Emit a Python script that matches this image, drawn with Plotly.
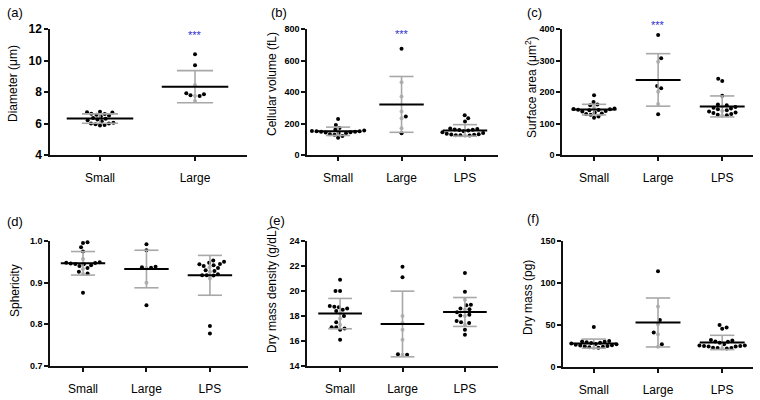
import numpy as np
import plotly.graph_objects as go

# ---------------- data ----------------
cats2 = ["Small", "Large"]
cats3 = ["Small", "Large", "LPS"]

diam_small = [6.75, 6.72, 6.7, 6.62, 6.6, 6.55, 6.5, 6.45, 6.35, 6.3, 6.25, 6.2, 6.15, 6.05, 6.0, 6.0, 5.95, 5.9, 5.88]
diam_large = [10.4, 9.7, 8.45, 7.92, 7.85, 7.8, 7.75, 7.75, 7.43]

vol_small = [228, 190, 172, 160, 155, 152, 150, 150, 148, 147, 145, 143, 140, 138, 132, 128, 120, 110]
vol_large = [675, 462, 372, 276, 244, 233, 170, 138]
vol_lps = [252, 233, 212, 168, 165, 162, 160, 158, 155, 150, 145, 140, 135, 132, 130, 128, 126, 125, 124, 122]

area_small = [190, 168, 160, 158, 150, 148, 146, 145, 144, 143, 142, 140, 138, 135, 132, 130, 128, 122, 118]
area_large = [381, 307, 296, 219, 212, 201, 162, 129]
area_lps = [242, 235, 188, 160, 158, 155, 152, 150, 148, 145, 142, 140, 138, 135, 133, 130, 128, 126, 125]

spher_small = [0.997, 0.995, 0.985, 0.975, 0.957, 0.949, 0.948, 0.947, 0.946, 0.945, 0.944, 0.942, 0.94, 0.935, 0.933, 0.926, 0.922, 0.921, 0.876]
spher_large = [0.992, 0.978, 0.938, 0.937, 0.936, 0.935, 0.90, 0.846]
spher_lps = [0.953, 0.950, 0.948, 0.945, 0.944, 0.942, 0.94, 0.937, 0.935, 0.93, 0.928, 0.926, 0.92, 0.918, 0.918, 0.917, 0.91, 0.796, 0.778]

dens_small = [20.9, 20.0, 20.0, 18.8, 18.75, 18.7, 18.6, 18.5, 18.4, 18.2, 18.0, 17.8, 17.5, 17.3, 17.1, 17.1, 17.0, 16.9, 16.1]
dens_large = [21.95, 21.1, 18.0, 17.45, 16.9, 16.1, 14.95, 14.9, 14.9]
dens_lps = [21.45, 19.95, 19.3, 18.9, 18.85, 18.6, 18.55, 18.5, 18.3, 18.1, 18.05, 18.0, 17.6, 17.5, 17.45, 17.3, 16.9, 16.5]

mass_small = [47.5, 31, 30.5, 30, 29.5, 29, 28.5, 28, 27.5, 27, 26.5, 26, 25.5, 25, 24.5, 24, 23.5, 23, 22.5]
mass_large = [114, 72, 56, 51, 41, 39, 27, 24]
mass_lps = [50, 47, 45.5, 32, 31.5, 30.5, 30, 29, 27, 25.5, 25.5, 25, 25, 24.5, 24.5, 23, 22.5, 22.5, 22, 22]

ticks_a = [4, 6, 8, 10, 12]
ticks_b = [0, 200, 400, 600, 800]
ticks_c = [0, 100, 200, 300, 400]
ticks_d = [0.7, 0.8, 0.9, 1.0]
ticklabels_d = ["0.7", "0.8", "0.9", "1.0"]
ticks_e = [14, 16, 18, 20, 22, 24]
ticks_f = [0, 50, 100, 150]

titles = ["Diameter (μm)", "Cellular volume (fL)", "Surface area (μm<sup>2</sup>)",
          "Sphericity", "Dry mass density (g/dL)", "Dry mass (pg)"]
panel_labels = ["(a)", "(b)", "(c)", "(d)", "(e)", "(f)"]
sig_text = "***"

# ---------------- layout (pixels) ----------------
W, H = 760, 400
FONT = "Liberation Sans, Arial, sans-serif"

panels = [
    dict(groups=[diam_small, diam_large], cats=cats2, ticks=ticks_a, ticktext=None,
         xpx=(50, 247), ypx=(29, 155), xr=(-0.526, 1.547), yr=(4, 12), tfs=12,
         title_xy=(13, 84), lab_xy=(15, 13), stars=[(1, 32)]),
    dict(groups=[vol_small, vol_large, vol_lps], cats=cats3, ticks=ticks_b, ticktext=None,
         xpx=(307, 498), ypx=(29, 155), xr=(-0.49, 2.52), yr=(0, 800), tfs=9,
         title_xy=(272, 84), lab_xy=(279, 13), stars=[(1, 31)]),
    dict(groups=[area_small, area_large, area_lps], cats=cats3, ticks=ticks_c, ticktext=None,
         xpx=(562, 753), ypx=(29, 155), xr=(-0.5, 2.48), yr=(0, 400), tfs=9,
         title_xy=(531, 87), lab_xy=(534, 13), stars=[(1, 22)]),
    dict(groups=[spher_small, spher_large, spher_lps], cats=cats3, ticks=ticks_d, ticktext=ticklabels_d,
         xpx=(50, 248), ypx=(241, 366), xr=(-0.52, 2.6), yr=(0.7, 1.0), tfs=9,
         title_xy=(15, 291), lab_xy=(15, 221), stars=[]),
    dict(groups=[dens_small, dens_large, dens_lps], cats=cats3, ticks=ticks_e, ticktext=None,
         xpx=(307, 498), ypx=(241, 366), xr=(-0.53, 2.53), yr=(14, 24), tfs=9,
         title_xy=(272, 290), lab_xy=(277, 220), stars=[]),
    dict(groups=[mass_small, mass_large, mass_lps], cats=cats3, ticks=ticks_f, ticktext=None,
         xpx=(563, 753), ypx=(241, 367), xr=(-0.48, 2.48), yr=(0, 150), tfs=9,
         title_xy=(528, 298), lab_xy=(533, 218), stars=[]),
]


def swarm(vals, px_y, px_x, d=4.6):
    """Simple beeswarm: offsets (in category units) so dots do not overlap."""
    vals = np.asarray(vals, float)
    order = np.argsort(vals)
    placed = []
    xs = np.zeros(len(vals))
    side = 1
    for i in order:
        y = vals[i] * px_y
        forb = []
        for xp, yp in placed:
            dy = abs(y - yp)
            if dy < d:
                w = np.sqrt(d * d - dy * dy)
                forb.append((xp - w, xp + w))
        cands = [0.0] + [a for a, b in forb] + [b for a, b in forb]
        cands.sort(key=lambda c: (round(abs(c), 6), -side * c))
        x = 0.0
        for c in cands:
            if all(not (a + 1e-6 < c < b - 1e-6) for a, b in forb):
                x = c
                break
        if abs(x) > 1e-6:
            side = -side
        placed.append((x, y))
        xs[i] = x / px_x
    return xs


fig = go.Figure()
layout = dict(width=W, height=H, margin=dict(l=0, r=0, t=0, b=0, pad=0, autoexpand=False),
              paper_bgcolor="white", plot_bgcolor="white", showlegend=False,
              font=dict(family=FONT, color="black"))
annotations = []

MEAN_HW = 0.35
CAP_HW = 0.19
BAR_COLOR = "#a8a8a8"

for k, p in enumerate(panels):
    n = "" if k == 0 else str(k + 1)
    xa, ya = "x" + n, "y" + n
    x0, x1 = p["xpx"]
    y0, y1 = p["ypx"]
    px_x = (x1 - x0) / (p["xr"][1] - p["xr"][0])
    px_y = (y1 - y0) / (p["yr"][1] - p["yr"][0])

    for gi, vals in enumerate(p["groups"]):
        vals = np.asarray(vals, float)
        m = vals.mean()
        sd = vals.std(ddof=1)
        offs = swarm(vals, px_y, px_x)
        under = (np.abs(offs) < 0.5 / px_x) & (vals > m - sd) & (vals < m + sd)
        colors = np.where(under, "#b5b5b5", "black")
        fig.add_trace(go.Scatter(x=gi + offs, y=vals, mode="markers", xaxis=xa, yaxis=ya,
                                 marker=dict(size=4, color=list(colors), line=dict(width=0)),
                                 hoverinfo="y", cliponaxis=False))
        # error bar (mean ± SD)
        fig.add_trace(go.Scatter(
            x=[gi, gi, None, gi - CAP_HW, gi + CAP_HW, None, gi - CAP_HW, gi + CAP_HW],
            y=[m - sd, m + sd, None, m + sd, m + sd, None, m - sd, m - sd],
            mode="lines", line=dict(color=BAR_COLOR, width=1.6), xaxis=xa, yaxis=ya,
            hoverinfo="skip"))
        # mean line
        fig.add_trace(go.Scatter(x=[gi - MEAN_HW, gi + MEAN_HW], y=[m, m], mode="lines",
                                 line=dict(color="black", width=2), xaxis=xa, yaxis=ya,
                                 hoverinfo="skip"))

    layout["xaxis" + n] = dict(
        domain=[x0 / W, x1 / W], anchor=ya, range=list(p["xr"]), automargin=False,
        tickvals=list(range(len(p["cats"]))), ticktext=p["cats"],
        showline=True, linecolor="#111", linewidth=1.5, ticks="outside", ticklen=4,
        tickwidth=1.5, tickcolor="#111", showgrid=False, zeroline=False,
        tickfont=dict(family=FONT, size=12, color="black"), ticklabelstandoff=7)
    ydict = dict(
        domain=[1 - y1 / H, 1 - y0 / H], anchor=xa, range=list(p["yr"]), automargin=False,
        tickvals=p["ticks"], showline=True, linecolor="#111", linewidth=1.5,
        ticks="outside", ticklen=4, tickwidth=1.5, tickcolor="#111",
        showgrid=False, zeroline=False,
        tickfont=dict(family=FONT, size=p["tfs"], color="black", weight="bold"))
    if p["ticktext"] is not None:
        ydict["ticktext"] = p["ticktext"]
    layout["yaxis" + n] = ydict

    tx, ty = p["title_xy"]
    annotations.append(dict(text=titles[k], x=tx / W, y=1 - ty / H, xref="paper", yref="paper",
                            textangle=-90, showarrow=False, xanchor="center", yanchor="middle",
                            font=dict(family=FONT, size=12, color="black")))
    lx, ly = p["lab_xy"]
    annotations.append(dict(text=panel_labels[k], x=lx / W, y=1 - ly / H, xref="paper", yref="paper",
                            showarrow=False, xanchor="center", yanchor="middle",
                            font=dict(family=FONT, size=13, color="black")))
    for sx, sy in p["stars"]:
        annotations.append(dict(text=sig_text, x=sx, y=1 - sy / H, xref=xa, yref="paper",
                                showarrow=False, xanchor="center", yanchor="middle", yshift=-3,
                                font=dict(family=FONT, size=11, color="#2f2fd0")))

layout["annotations"] = annotations
fig.update_layout(**layout)
fig.write_html("out.html", config={"displayModeBar": False},
               post_script="document.body.style.margin='0';document.body.style.overflow='hidden';")
